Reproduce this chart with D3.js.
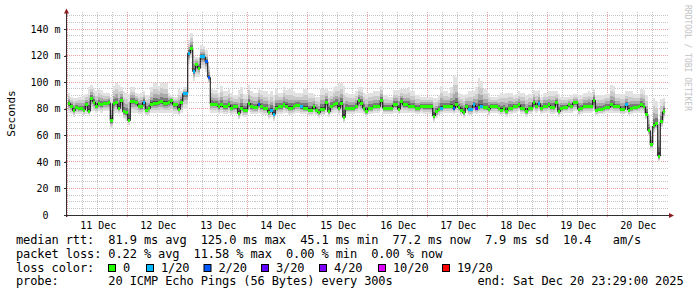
<!DOCTYPE html>
<html>
<head>
<meta charset="utf-8">
<script src="https://cdn.jsdelivr.net/npm/d3@7"></script>
<style>
  body { margin: 0; background: #fff; }
  svg text { font-family: "DejaVu Sans Mono", monospace; white-space: pre; }
</style>
</head>
<body>
<div id="chart"></div>
<script>
// hourly slot (hours after the first sample) of each median step
const hours = [
  1,2,3,4,5,7,8,9,10,11,12,13,14,15,17,18,19,20,21,22,23,24,25,26,28,29,30,31,32,33,34,35,37,38,39,41,42,43,45,46,47,
  49,50,51,52,53,54,55,56,57,58,59,61,62,63,65,66,67,69,70,71,73,74,75,77,78,79,81,82,83,84,85,87,88,89,91,92,94,
  95,97,99,100,101,102,104,105,106,107,108,109,110,111,112,113,115,116,117,118,119,120,121,123,124,126,127,129,130,131,133,134,135,137,138,140,142,
  143,145,147,148,149,150,151,153,154,155,156,157,158,159,160,161,163,164,165,166,167,169,170,171,173,174,175,176,177,179,180,181,182,184,185,187,188,189,190,
  191,193,194,196,197,198,199,201,202,203,205,206,207,209,210,211,212,213,215,216,218,219,220,222,223,224,225,226,227,229,230,231,232,233,234,235,236,237,238,239
];
// median rtt, ms
const median = [
  84,82,78.5,81,80,79,83,78,88,85,81.5,84,83,84,84.5,71,84,84.5,80,86.5,77.8,77,71,85.3,84.5,82,81.5,85,79,80,83.5,84,84.5,85.3,84,84.5,86,83,79.5,85,91.5,
  121.7,125,108,113,110.4,119,119,115.4,103.6,83.3,83.3,81.5,82.8,81.5,82.8,80.3,81.5,76.5,80.3,79,84,81.5,80.8,83.3,81.5,80.3,77.3,79,75.8,80.3,81.5,82.8,82,80.3,81.5,82.3,81.5,
  80.3,79,81.5,79,77,79.5,84.5,77.8,82,82.8,84,80.3,84,73.5,80.3,80.3,80.3,81.5,86,84,80.3,77.8,80.3,81.5,81.5,86.5,80.3,80.3,80.3,82.8,79.5,85.3,82.8,82,81.5,80.3,82,
  81.5,81.5,74.5,77.8,79.5,80.3,81.5,81.5,82,80.3,82.8,81,79,77,81.5,79.5,82.8,80.3,81,82,81,79.5,81.5,81.5,80.3,79,80.3,77.8,80.3,81.5,81.5,82.8,80.3,77.8,80.3,84.5,81.5,84,80.3,
  81.5,82.8,81,84.5,77.8,80.3,81,82.8,81.5,84.5,79.5,80.3,81.5,82,81.5,86.5,79,79.5,80.3,81,82.8,82,81.5,79.5,79.5,82.8,79,80.3,81,81.5,82.8,81.5,76,63.5,52.7,67,68.5,44.4,70.2,77.8
];
// top of the smoke (slowest ping), ms
const smokeHi = [
  92,89,88,88,89,90,91,96,98,95,93,95,94,92,92,89,97,99,98,96,93,92,91,96,92,91,92,93,90,90,96,99,97,100,99,92,90,89,95,93,96,
  132,137,120,119,118,128,127,124,112,95,94,92,97,93,95,92,90,94,96,91,98,93,92,95,94,93,91,93,90,95,92,96,94,95,93,92,92,
  95,92,91,89,89,95,95,93,93,96,97,99,99,97,92,91,91,93,96,96,92,91,92,93,93,97,90,89,89,94,94,95,95,96,93,90,89,
  89,89,88,88,90,97,93,92,96,105,104,92,91,90,91,93,93,96,103,101,95,92,89,89,90,92,91,92,92,90,91,93,92,90,91,94,93,94,89,
  92,93,93,93,91,89,89,89,90,91,90,90,92,93,92,95,90,90,90,91,98,97,91,91,91,93,93,93,91,91,95,94,90,75,67,88,86,72,87,88
];
// bottom of the smoke (fastest ping), ms
const smokeLo = [
  77,76,74,76,76,75,76,75,78,78,77,78,77,78,78,65,76,77,76,77,72,71,68,77,77,76,76,77,75,75,77,77,77,77,77,77,77,76,75,77,80,
  114,118,101,104,104,110,110,108,99,77,77,76,77,76,77,75,76,72,75,74,78,76,76,77,76,75,72,74,71,75,76,77,77,75,76,77,76,
  76,75,76,75,73,75,77,74,76,77,77,75,77,70,76,76,76,77,77,77,76,74,76,77,77,78,76,76,76,77,76,77,77,77,77,76,77,
  76,76,70,73,75,76,77,77,77,76,77,77,75,73,77,75,77,76,77,77,77,75,77,77,76,75,76,74,76,77,77,78,76,74,76,78,77,78,76,
  77,77,76,77,74,76,77,77,77,78,75,76,77,77,77,78,75,76,76,77,77,77,77,76,76,77,75,76,77,77,77,77,72,60,49,62,64,40,66,73
];
// steps that lost pings (hour slot, pings lost of 20)
const lossHours = [31,47,49,51,54,55,56,57,77,82,83,94,150,155,161,163,164,166,189,224];
const lossCounts = [1,1,1,1,1,1,2,2,2,1,1,1,1,2,1,1,3,1,1,1];

const lossLevels = [0, 1, 2, 3, 4, 10, 19];
const lossColors = ["#26ff00", "#00b8ff", "#0059ff", "#5e00ff", "#7e00ff", "#dd00ff", "#ff0000"];
const lossLabels = ["0", "1/20", "2/20", "3/20", "4/20", "10/20", "19/20"];

const rttLine = "median rtt:  81.9 ms avg  125.0 ms max  45.1 ms min  77.2 ms now  7.9 ms sd  10.4   am/s";
const lossLine = "packet loss: 0.22 % avg  11.58 % max  0.00 % min  0.00 % now";
const probeLine = "probe:       20 ICMP Echo Pings (56 Bytes) every 300s";
const endText = "end: Sat Dec 20 23:29:00 2025";

const startTime = new Date(Date.UTC(2025, 11, 10, 23, 29));
const endTime = new Date(Date.UTC(2025, 11, 20, 23, 29));

const width = 697, height = 297;
const plotLeft = 66.5, plotRight = 666.5, plotTop = 12, plotBottom = 215;

const x = d3.scaleUtc([startTime, endTime], [plotLeft, plotRight]);
const y = d3.scaleLinear([0, 152.8], [plotBottom, plotTop]);
const at = h => new Date(startTime.getTime() + h * 3600e3);

const svg = d3.select("#chart").append("svg")
    .attr("width", width)
    .attr("height", height)
    .style("display", "block");

svg.append("rect").attr("width", width).attr("height", height).attr("fill", "#fff");

// grid
const gridMinor = "rgba(150,150,150,0.55)", gridMajor = "rgba(222,90,90,0.6)";
const grid = svg.append("g").attr("shape-rendering", "crispEdges").attr("stroke-dasharray", "1,1");

const yMinor = d3.range(5, 152, 5).filter(v => v % 20 !== 0);
const yMajor = d3.range(20, 152, 20);
grid.selectAll(".hmin").data(yMinor).join("line")
    .attr("x1", plotLeft).attr("x2", plotRight + 2)
    .attr("y1", d => y(d)).attr("y2", d => y(d))
    .attr("stroke", gridMinor);
grid.selectAll(".hmaj").data(yMajor).join("line")
    .attr("x1", plotLeft - 2).attr("x2", plotRight + 2)
    .attr("y1", d => y(d)).attr("y2", d => y(d))
    .attr("stroke", gridMajor);

const sixHours = d3.utcHour.every(6).range(startTime, endTime).filter(d => d.getUTCHours() !== 0);
const midnights = d3.utcDay.range(startTime, endTime);
grid.selectAll(".vmin").data(sixHours).join("line")
    .attr("x1", d => x(d)).attr("x2", d => x(d))
    .attr("y1", plotTop).attr("y2", plotBottom)
    .attr("stroke", gridMinor);
grid.selectAll(".vmaj").data(midnights).join("line")
    .attr("x1", d => x(d)).attr("x2", d => x(d))
    .attr("y1", plotTop).attr("y2", plotBottom + 2)
    .attr("stroke", gridMajor);

// one record per step
const steps = hours.map((h, i) => ({
  x0: x(at(h - 0.5)),
  x1: x(at(i < hours.length - 1 ? hours[i + 1] - 0.5 : h + 0.5)),
  m: median[i], hi: smokeHi[i], lo: smokeLo[i],
  loss: lossHours.includes(h) ? lossCounts[lossHours.indexOf(h)] : 0
}));

// smoke: outer band light, inner bands darker
const smokeShades = [
  {f: 1.00, c: "#e2e2e2"},
  {f: 0.70, c: "#cbcbcb"},
  {f: 0.45, c: "#aaaaaa"},
  {f: 0.25, c: "#7a7a7a"},
  {f: 0.10, c: "#474747"}
];
const smoke = svg.append("g").attr("shape-rendering", "crispEdges");
smokeShades.forEach(s => {
  smoke.append("g").selectAll("rect").data(steps).join("rect")
      .attr("x", d => d.x0)
      .attr("width", d => d.x1 - d.x0)
      .attr("y", d => y(d.m + (d.hi - d.m) * s.f))
      .attr("height", d => y(d.m - (d.m - d.lo) * s.f) - y(d.m + (d.hi - d.m) * s.f))
      .attr("fill", s.c);
});

// median step line
const line = d3.line().x(d => d[0]).y(d => y(d[1])).curve(d3.curveStepAfter);
const linePts = steps.map(d => [d.x0, d.m]);
linePts.push([steps[steps.length - 1].x1, steps[steps.length - 1].m]);
svg.append("path")
    .attr("d", line(linePts))
    .attr("fill", "none")
    .attr("stroke", "#000")
    .attr("stroke-width", 1);

// loss coloured median marks
const lossColor = d3.scaleOrdinal(lossLevels, lossColors);
svg.append("g").attr("shape-rendering", "crispEdges")
  .selectAll("rect").data(steps).join("rect")
    .attr("x", d => d.x0)
    .attr("width", d => d.x1 - d.x0)
    .attr("y", d => y(d.m) - 1.5)
    .attr("height", 3)
    .attr("fill", d => lossColor(d.loss));

// axes
const axisColor = "#303030", arrowColor = "#8a1c1c";

const yAxis = d3.axisLeft(y)
    .tickValues(d3.range(0, 141, 20))
    .tickSize(3)
    .tickPadding(3)
    .tickFormat(d => d === 0 ? "0  " : d + " m");
svg.append("g")
    .attr("transform", `translate(${plotLeft},0)`)
    .call(yAxis)
    .call(g => g.select(".domain").remove())
    .call(g => g.selectAll("line").attr("stroke", axisColor).attr("shape-rendering", "crispEdges"))
    .call(g => g.selectAll("text").attr("font-size", 10).attr("fill", "#000")
        .style("font-family", "'DejaVu Sans Mono', monospace"));

const noons = midnights.map(d => d3.utcHour.offset(d, 12)).filter(d => d < endTime);
const xAxis = d3.axisBottom(x)
    .tickValues(noons)
    .tickSize(0)
    .tickPadding(6.5)
    .tickFormat(d3.utcFormat("%d %b"));
svg.append("g")
    .attr("transform", `translate(0,${plotBottom})`)
    .call(xAxis)
    .call(g => g.select(".domain").remove())
    .call(g => g.selectAll("text").attr("font-size", 10).attr("fill", "#000")
        .style("font-family", "'DejaVu Sans Mono', monospace"));

svg.append("line")
    .attr("x1", plotLeft - 3).attr("x2", 669)
    .attr("y1", plotBottom + 0.5).attr("y2", plotBottom + 0.5)
    .attr("stroke", axisColor).attr("shape-rendering", "crispEdges");
svg.append("line")
    .attr("x1", plotLeft).attr("x2", plotLeft)
    .attr("y1", plotBottom + 2).attr("y2", 13)
    .attr("stroke", axisColor).attr("shape-rendering", "crispEdges");
svg.append("path")
    .attr("d", `M${plotLeft - 2.5},13.5L${plotLeft},8.5L${plotLeft + 2.5},13.5Z`)
    .attr("fill", arrowColor);
svg.append("path")
    .attr("d", `M669,${plotBottom - 2}L674,${plotBottom + 0.5}L669,${plotBottom + 3}Z`)
    .attr("fill", arrowColor);

// y axis title
svg.append("text")
    .attr("transform", "translate(14.5,113.5) rotate(-90)")
    .attr("text-anchor", "middle")
    .attr("font-size", 11)
    .text("Seconds");

// watermark
svg.append("text")
    .attr("transform", "translate(684.5,5) rotate(90)")
    .attr("font-size", 8)
    .attr("fill", "#c2c2c2")
    .text("RRDTOOL / TOBI OETIKER");

// legend
const legend = svg.append("g")
    .attr("font-size", 12)
    .attr("letter-spacing", -0.12)
    .attr("fill", "#000");
const lineY = [244, 258, 271.5, 285];
const put = (txt, px, py) => legend.append("text").attr("x", px).attr("y", py).text(txt);

put(rttLine, 16, lineY[0]);
put(lossLine, 16, lineY[1]);

put("loss color:", 16, lineY[2]);
const swatchX = [108.5, 146.5, 204, 261.5, 319.5, 378.5, 442.5];
swatchX.forEach((px, i) => {
  legend.append("rect")
      .attr("x", px).attr("y", lineY[2] - 7)
      .attr("width", 7).attr("height", 7)
      .attr("fill", lossColors[i])
      .attr("stroke", "#000").attr("stroke-width", 1);
  put(lossLabels[i], px + 14.5, lineY[2]);
});

put(probeLine, 16, lineY[3]);
put(endText, 477.5, lineY[3]);
</script>
</body>
</html>
